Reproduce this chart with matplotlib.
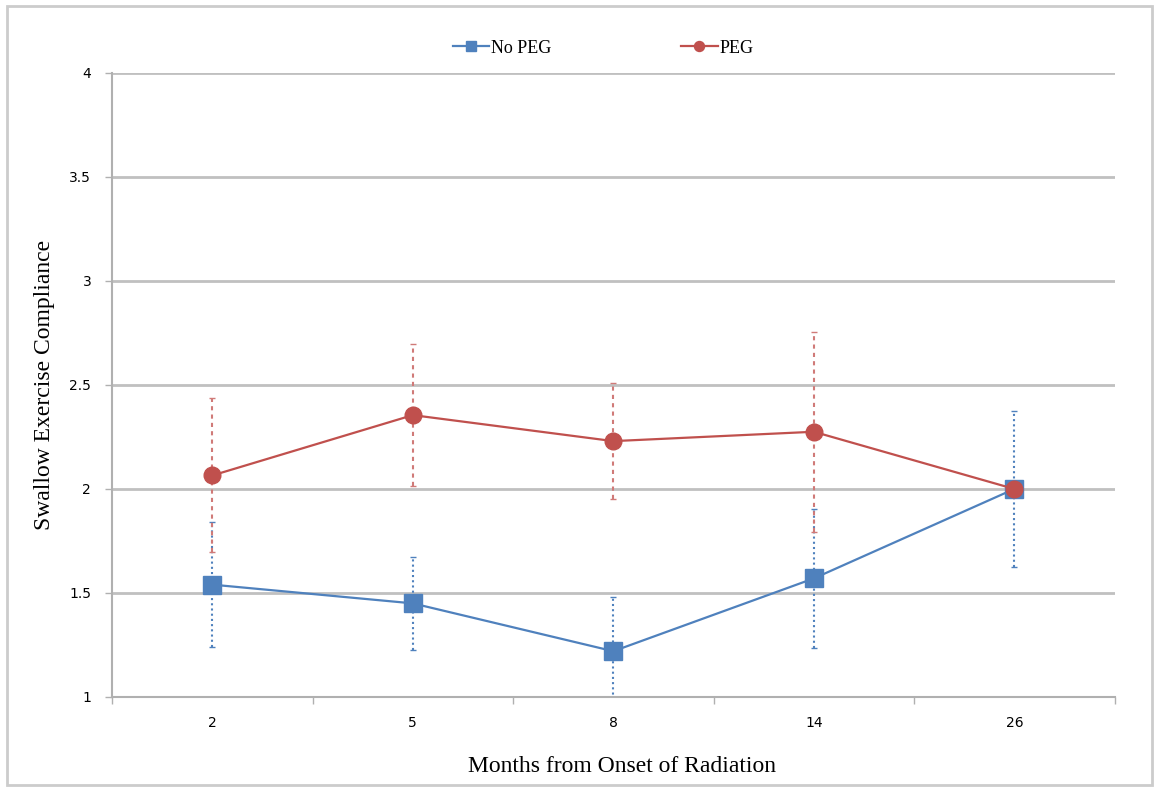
import matplotlib
matplotlib.use("Agg")
import matplotlib.pyplot as plt
from matplotlib.patches import Rectangle
import numpy as np

# datos
months = ["2", "5", "8", "14", "26"]
no_peg = [1.54, 1.45, 1.22, 1.57, 2.00]
no_peg_err = [0.30, 0.225, 0.26, 0.335, 0.375]
peg = [2.065, 2.355, 2.23, 2.275, 2.00]
peg_err = [0.37, 0.34, 0.28, 0.48, 0.0]

blue = "#4F81BD"
red = "#C0504D"

fig = plt.figure(figsize=(11.55, 7.87), dpi=100)
ax = fig.add_axes([0.097, 0.1144, 0.868, 0.7929])

x = np.arange(len(months))

# barras de error (punteadas)
eb1 = ax.errorbar(x, no_peg, yerr=no_peg_err, fmt="none", ecolor=blue,
                  elinewidth=1.5, capsize=2.5, capthick=1, zorder=2)
eb1[2][0].set_linestyle((0, (1, 1.5)))
mask = np.array(peg_err) > 0
eb2 = ax.errorbar(x[mask], np.array(peg)[mask], yerr=np.array(peg_err)[mask],
                  fmt="none", ecolor="#d07a78", elinewidth=1.5, capsize=2.5,
                  capthick=1, zorder=2)
eb2[2][0].set_linestyle((0, (2, 2)))

ax.plot(x, no_peg, color=blue, lw=1.6, marker="s", markersize=13,
        label="No PEG", zorder=3)
ax.plot(x, peg, color=red, lw=1.6, marker="o", markersize=12,
        label="PEG", zorder=4)

ax.set_xlim(-0.5, len(months) - 0.5)
ax.set_ylim(1, 4)
ax.set_yticks([1, 1.5, 2, 2.5, 3, 3.5, 4])
ax.set_yticklabels(["1", "1.5", "2", "2.5", "3", "3.5", "4"])
ax.set_xticks(x)
ax.set_xticklabels(months)
ax.set_xticks(np.arange(-0.5, len(months), 1), minor=True)
ax.tick_params(axis="x", which="major", length=0, pad=14, labelsize=10)
ax.tick_params(axis="x", which="minor", length=5, color="#b0b0b0", width=1)
ax.tick_params(axis="y", length=5, color="#b0b0b0", width=1, pad=10,
               labelsize=10)

ax.grid(axis="y", color="#c0c0c0", lw=2)
ax.set_axisbelow(True)
for s in ["top", "right"]:
    ax.spines[s].set_visible(False)
for s in ["left", "bottom"]:
    ax.spines[s].set_color("#b0b0b0")
    ax.spines[s].set_linewidth(1.5)

ax.set_xlabel("Months from Onset of Radiation", family="Liberation Serif",
              fontsize=17, labelpad=12)
ax.xaxis.set_label_coords(0.509, -0.095)
ax.set_ylabel("Swallow Exercise Compliance", family="Liberation Serif",
              fontsize=17, labelpad=10)

ax.legend(loc="lower center", bbox_to_anchor=(0.49, 1.0), ncol=2,
          frameon=False, markerscale=0.6, columnspacing=7.2, handlelength=2,
          handletextpad=0.1, prop={"family": "Liberation Serif", "size": 13})

# marco exterior
fig.patches.append(Rectangle((0.006, 0.003), 0.991, 0.99, transform=fig.transFigure,
                             fill=False, edgecolor="#cccccc", lw=2))

fig.savefig("out.png", dpi=100)
